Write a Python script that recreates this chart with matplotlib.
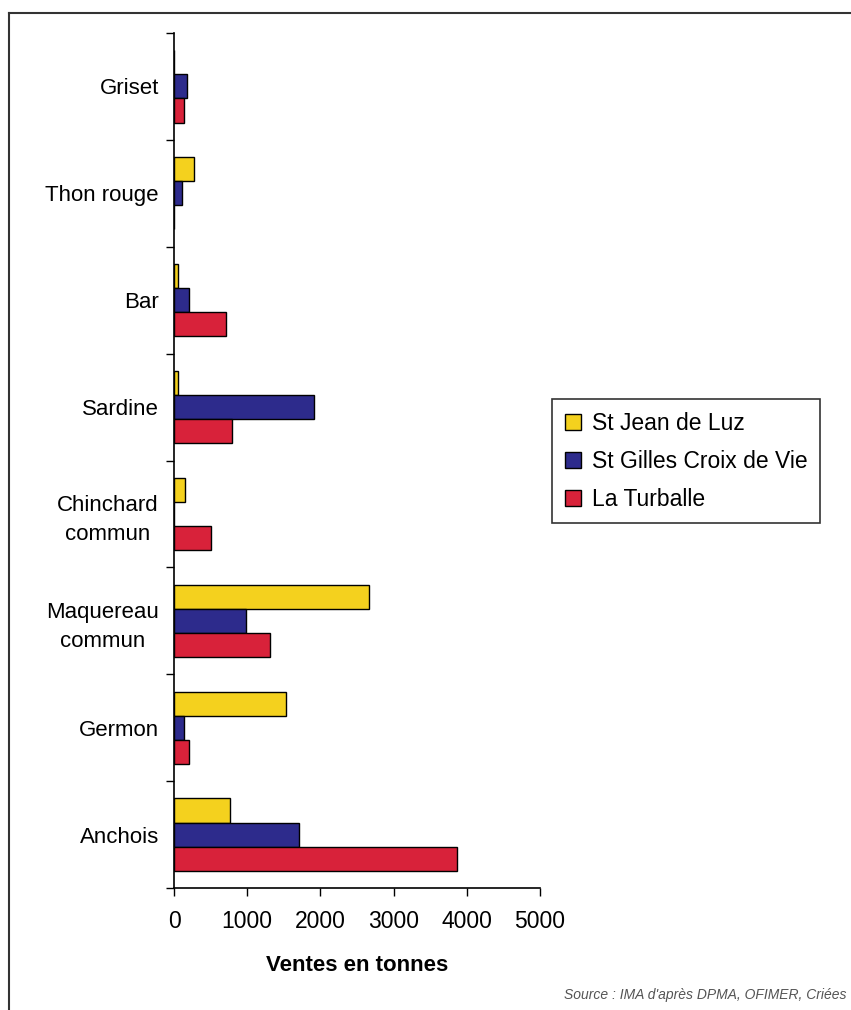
import numpy as np
import matplotlib.pyplot as plt
from matplotlib.lines import Line2D
from matplotlib.ticker import FixedLocator

plt.rcParams['font.family'] = ['Liberation Sans', 'DejaVu Sans']

# data (tonnes), top to bottom
especes = ['Griset', 'Thon rouge', 'Bar', 'Sardine', 'Chinchard\ncommun',
           'Maquereau\ncommun', 'Germon', 'Anchois']
st_jean = [0, 270, 60, 55, 150, 2665, 1530, 765]
st_gilles = [180, 110, 200, 1910, 0, 985, 135, 1710]
turballe = [140, 0, 710, 790, 500, 1310, 200, 3865]
series = ['St Jean de Luz', 'St Gilles Croix de Vie', 'La Turballe']
couleurs = ['#F4D11E', '#2D2B8C', '#D8223A']
xticks = [0, 1000, 2000, 3000, 4000, 5000]

fig = plt.figure(figsize=(8.51, 10.10), dpi=100)
ax = fig.add_axes([0.2045, 0.1208, 0.43, 0.8465])

y = np.arange(len(especes))
h = 0.225
for k, (vals, lab, c) in enumerate(zip([st_jean, st_gilles, turballe], series, couleurs)):
    ax.barh(y + (k - 1) * h, vals, height=h, color=c, edgecolor='black',
            linewidth=1.0, label=lab)

ax.set_ylim(len(especes) - 0.5, -0.5)
ax.set_xlim(0, 5000)
ax.set_yticks(y)
ax.set_yticklabels(especes, fontsize=16, linespacing=1.5)
ax.yaxis.set_minor_locator(FixedLocator(np.arange(-0.5, len(especes), 1.0)))
ax.tick_params(axis='y', which='major', length=0, pad=11)
ax.tick_params(axis='y', which='minor', length=6, width=1, direction='out')
ax.set_xticks(xticks)
ax.set_xticklabels([str(t) for t in xticks], fontsize=16.5)
ax.tick_params(axis='x', length=6, width=1, direction='out', pad=10)
for lbl in ax.get_yticklabels():
    lbl.set_horizontalalignment('right')
    lbl.set_multialignment('center')

ax.spines['top'].set_visible(False)
ax.spines['right'].set_visible(False)
ax.spines['left'].set_linewidth(1.2)
ax.spines['bottom'].set_linewidth(1.2)

ax.set_xlabel('Ventes en tonnes', fontsize=16, fontweight='bold', labelpad=16)

leg = ax.legend(loc='center left', bbox_to_anchor=(1.033, 0.499), fontsize=16.5,
                frameon=True, fancybox=False, edgecolor='black',
                handlelength=0.7, handleheight=0.7, handletextpad=0.5,
                labelspacing=0.65, borderpad=0.55, borderaxespad=0)
leg.get_frame().set_linewidth(1.2)

# outer frame (left and top only)
fig.add_artist(Line2D([9 / 851, 9 / 851], [0, 1 - 13 / 1010], color='#333333', lw=1.5))
fig.add_artist(Line2D([9 / 851, 1], [1 - 13 / 1010, 1 - 13 / 1010], color='#333333', lw=1.5))

fig.text(846 / 851, 1 - 995 / 1010, "Source : IMA d'après DPMA, OFIMER, Criées",
         ha='right', va='center', fontsize=10, color='#555555', style='italic')

fig.savefig('out.png', dpi=100)
